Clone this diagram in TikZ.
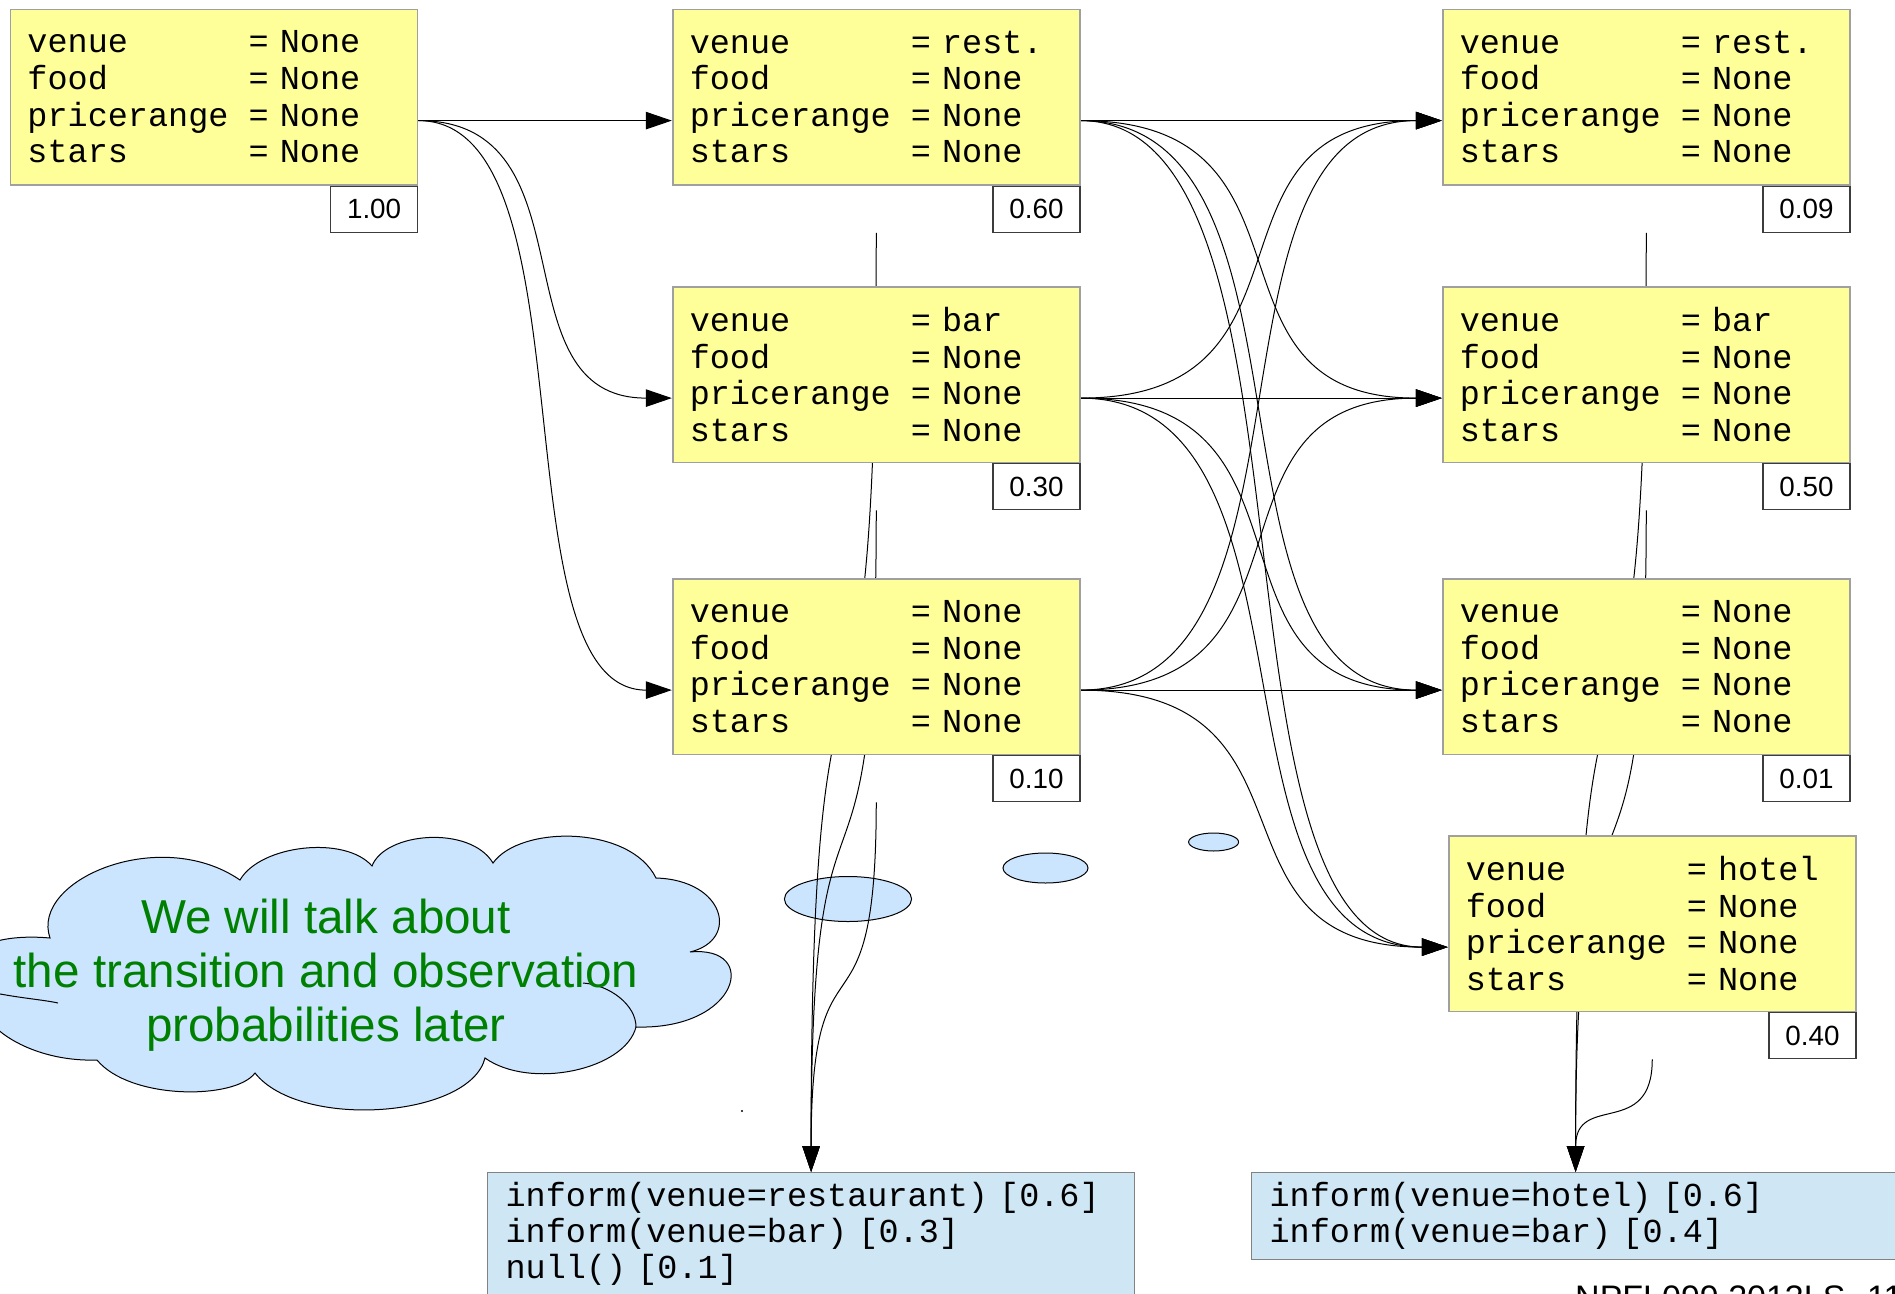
\documentclass[tikz,border=0pt]{standalone}
\usepackage{fontspec}
\setmainfont{Liberation Sans}
\newfontfamily\monofont{Liberation Mono}
\usetikzlibrary{arrows.meta,fit}
\pgfdeclarelayer{wires}
\pgfsetlayers{wires,main}

\definecolor{stateyellow}{RGB}{255,255,153}
\definecolor{stateborder}{RGB}{160,160,160}
\definecolor{probborder}{RGB}{60,60,60}
\definecolor{obsblue}{RGB}{207,231,245}
\definecolor{obsborder}{RGB}{130,130,130}
\definecolor{cloudblue}{RGB}{204,229,255}
\definecolor{notegreen}{RGB}{0,128,0}

\newcommand\statefont{\monofont\fontsize{33.5}{36.6}\selectfont}
\newcommand\obsfont{\monofont\fontsize{33.5}{36}\selectfont}
\newcommand\probfont{\fontsize{27.8}{30}\selectfont}
\newcommand\notefont{\fontsize{47.6}{54}\selectfont}
\newcommand\footfont{\fontsize{34}{36}\selectfont}

% one "slot = value" line, values aligned in the 12th column
\newcommand\slotline[2]{\makebox[6.6em][l]{#1}=~#2}
\newcommand\slots[4]{\slotline{venue}{#1}\\\slotline{food}{#2}\\\slotline{pricerange}{#3}\\\slotline{stars}{#4}}

% a dialogue state: yellow slot box, probability tag below its right end,
% and an invisible frame around both that the connectors attach to
\newcommand\beliefstate[4]{%
  \node[statebox] (#1box) at (#2) {\slots{#3}{None}{None}{None}};
  \node[probbox] (#1prob) at (#1box.south east) {#4};
  \node[fit=(#1box)(#1prob), inner sep=0pt] (#1) {};
}

\begin{document}
\begin{tikzpicture}[x=1pt,y=-1pt,
  statebox/.style={draw=stateborder, line width=1.5pt, fill=stateyellow,
    anchor=north west, minimum height=175.5pt, text width=373pt,
    inner xsep=17pt, inner ysep=0pt, align=left, font=\statefont},
  probbox/.style={draw=probborder, line width=1.2pt, fill=white,
    anchor=north east, minimum width=87pt, minimum height=46pt,
    inner sep=0pt, font=\probfont},
  obsbox/.style={draw=obsborder, line width=1.2pt, fill=obsblue,
    anchor=north west, align=left, font=\obsfont,
    inner xsep=18pt, inner ysep=10pt},
  arrowlink/.style={line width=1pt, -{Triangle[length=26pt,width=17.5pt]}},
  bubble/.style={draw=black, line width=1pt, fill=cloudblue},
]
\useasboundingbox (0,0) rectangle (1895,1293);
\clip (0,0) rectangle (1895,1293);

% states at t = 0, 1, 2
\beliefstate{A}{9.7,8.5}{None}{1.00}
\beliefstate{Ba}{672,8.5}{rest.}{0.60}
\beliefstate{Bb}{672,286}{bar}{0.30}
\beliefstate{Bc}{672,578}{None}{0.10}
\beliefstate{Ca}{1442,8.5}{rest.}{0.09}
\beliefstate{Cb}{1442,286}{bar}{0.50}
\beliefstate{Cc}{1442,578}{None}{0.01}
\beliefstate{Cd}{1448,835}{hotel}{0.40}

% observations (N-best lists)
\node[obsbox, text width=611pt] (obsB) at (487,1172)
  {inform(venue=restaurant) [0.6]\\inform(venue=bar) [0.3]\\null() [0.1]};
\node[obsbox, text width=612pt] (obsC) at (1251,1172)
  {inform(venue=hotel) [0.6]\\inform(venue=bar) [0.4]};

\begin{pgfonlayer}{wires}
  % thought bubbles
  \draw[bubble] (848,899) ellipse [x radius=63.6pt, y radius=22.5pt];
  \draw[bubble] (1045.5,868) ellipse [x radius=42.5pt, y radius=15pt];
  \draw[bubble] (1213.6,842) ellipse [x radius=25pt, y radius=9pt];

  % transitions t=0 -> t=1
  \draw[arrowlink] (A.east) -- (Ba.west);
  \draw[arrowlink] (A.east) .. controls +(178,0) and +(-178,0) .. (Bb.west);
  \draw[arrowlink] (A.east) .. controls +(178,0) and +(-178,0) .. (Bc.west);

  % transitions t=1 -> t=2
  \foreach \src in {Ba,Bb,Bc}{
    \foreach \dst in {Ca,Cb,Cc,Cd}{
      \draw[arrowlink] (\src.east) .. controls +(254,0) and +(-254,0) .. (\dst.west);
    }
  }

  % observation links
  \draw[arrowlink] (Ba.south) .. controls +(0,659) and +(0,-659) .. (obsB.north);
  \draw[arrowlink] (Bb.south) .. controls +(0,465) and +(0,-465) .. (obsB.north);
  \draw[arrowlink] (Bc.south) .. controls +(0,260) and +(0,-260) .. (obsB.north);
  \draw[arrowlink] (Ca.south) .. controls +(0,659) and +(0,-659) .. (obsC.north);
  \draw[arrowlink] (Cb.south) .. controls +(0,465) and +(0,-465) .. (obsC.north);
  \draw[arrowlink] (Cd.south) .. controls +(0,80) and +(0,-80) .. (obsC.north);
\end{pgfonlayer}

% cloud callout
\path[bubble] (50,938)
  .. controls (30,880) and (160,825) .. (240,880)
  .. controls (260,845) and (345,835) .. (372,866)
  .. controls (385,832) and (470,825) .. (493,863)
  .. controls (520,825) and (630,825) .. (656,878)
  .. controls (725,880) and (740,940) .. (690,952)
  .. controls (760,945) and (740,1030) .. (636,1027)
  .. controls (625,1070) and (530,1090) .. (485,1058)
  .. controls (470,1118) and (300,1130) .. (255,1073)
  .. controls (235,1100) and (130,1100) .. (97,1060)
  .. controls (40,1062) and (-10,1035) .. (-20,1005)
  -- (-20,995)
  .. controls (-60,980) and (-40,930) .. (50,938) -- cycle;
\draw[line width=1pt] (583,983) .. controls (610,985) and (636,1005) .. (636,1027);
\draw[line width=1pt] (-5,993) .. controls (20,998) and (45,1000) .. (58,1003);
\node[font=\notefont, text=notegreen, align=center, inner sep=0pt] (note) at (326,975)
  {We will talk about\\the transition and observation\\probabilities later};

% stray mark
\fill (742,1111) circle (1.2pt);

% footer
\node[font=\footfont, anchor=base west, inner sep=0pt] (footer) at (1575,1309) {NPFL099 2013LS};
\node[font=\footfont, anchor=base west, inner sep=0pt] (pagenum) at (1867,1309) {11};
\end{tikzpicture}
\end{document}
